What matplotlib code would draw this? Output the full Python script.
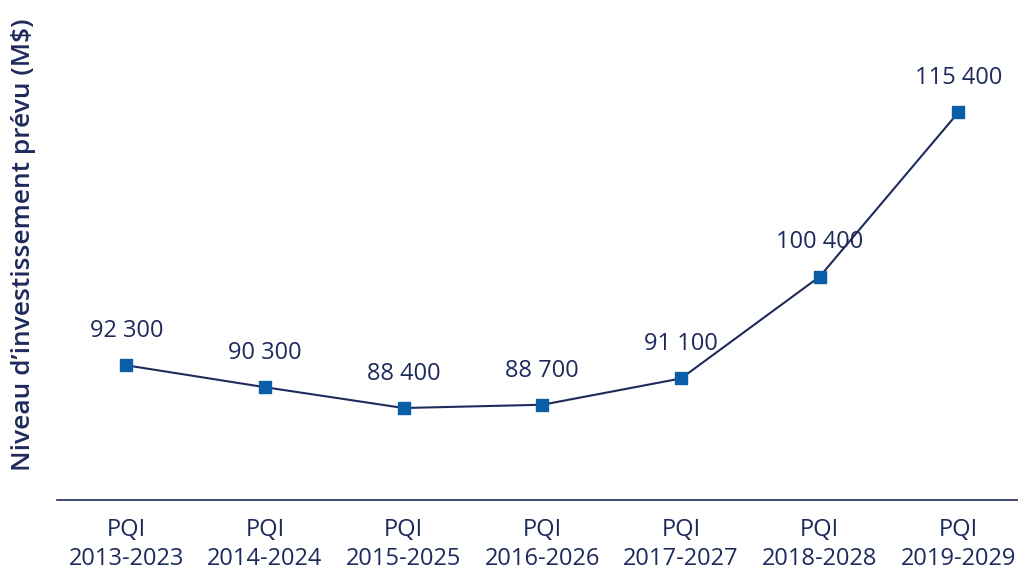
import matplotlib.pyplot as plt

plt.rcParams['font.family'] = ['Open Sans', 'DejaVu Sans']

categories = ["PQI\n2013-2023", "PQI\n2014-2024", "PQI\n2015-2025", "PQI\n2016-2026",
              "PQI\n2017-2027", "PQI\n2018-2028", "PQI\n2019-2029"]
values = [92300, 90300, 88400, 88700, 91100, 100400, 115400]
labels = ["92 300", "90 300", "88 400", "88 700", "91 100", "100 400", "115 400"]

navy = "#1f2a5c"
blue = "#0a5ea8"

fig = plt.figure(figsize=(10.18, 5.71), dpi=100)
ax = fig.add_axes([57 / 1018, 71 / 571, 1 - 57 / 1018, 490 / 571])

x = range(len(values))
ax.plot(x, values, color=navy, lw=1.5, zorder=2)
ax.plot(x, values, ls="none", marker="s", ms=9, color=blue, zorder=3)

for i, (v, t) in enumerate(zip(values, labels)):
    ax.annotate(t, (i, v), xytext=(0, 16), textcoords="offset points",
                ha="center", va="bottom", fontsize=17, color=navy)

ax.set_xlim(-0.5, 6.43)
ax.set_ylim(80000, 124750)
ax.set_xticks(list(x))
ax.set_xticklabels(categories, fontsize=17, color=navy, linespacing=1.3)
ax.tick_params(axis="x", length=0, pad=13)
ax.set_yticks([])
for s in ["top", "right", "left"]:
    ax.spines[s].set_visible(False)
ax.spines["bottom"].set_color(navy)
ax.spines["bottom"].set_linewidth(1.2)

fig.text(24 / 1018, 1 - 245 / 571, "Niveau d\u2019investissement prévu (M$)", rotation=90,
         ha="center", va="center", fontsize=19, color=navy, fontweight="semibold")

fig.savefig("out.png", dpi=100)
